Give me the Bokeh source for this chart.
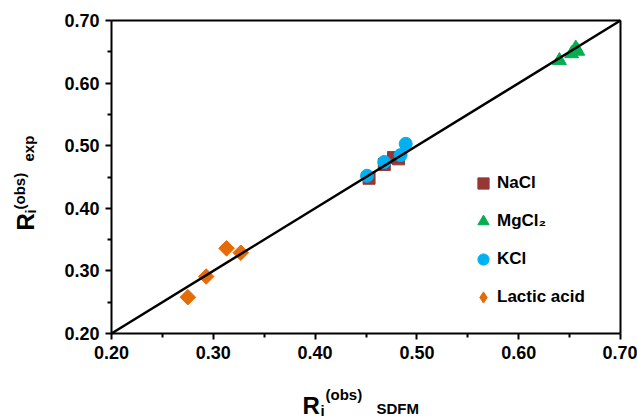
from bokeh.plotting import figure
from bokeh.models import Label, Legend, LegendItem, FixedTicker, NumeralTickFormatter, Range1d, LinearAxis
from bokeh.embed import file_html
from bokeh.resources import INLINE
import math

nacl_x = [0.453, 0.468, 0.477, 0.482]
nacl_y = [0.448, 0.470, 0.481, 0.479]
mg_x = [0.640, 0.652, 0.656, 0.658]
mg_y = [0.636, 0.647, 0.656, 0.651]
kcl_x = [0.451, 0.468, 0.484, 0.489]
kcl_y = [0.452, 0.474, 0.485, 0.503]
lac_x = [0.275, 0.293, 0.313, 0.327]
lac_y = [0.258, 0.291, 0.336, 0.329]
line_x = [0.20, 0.70]
line_y = [0.20, 0.70]
major_ticks = [0.20, 0.30, 0.40, 0.50, 0.60, 0.70]
minor_ticks = [0.25, 0.35, 0.45, 0.55, 0.65]
axis_min, axis_max = 0.20, 0.70

FONT = "Liberation Sans"
W, H = 637, 418
# frame box of the axes in canvas pixels
L, R, T, B = 111, 620, 20, 333
sx = (R - L) / (axis_max - axis_min)
sy = (B - T) / (axis_max - axis_min)
xr = Range1d(axis_min - L / sx, axis_max + (W - R) / sx)
yr = Range1d(axis_min - (H - B) / sy, axis_max + T / sy)

p = figure(width=W, height=H, output_backend="svg", toolbar_location=None,
           x_range=xr, y_range=yr, min_border=0)
p.background_fill_color = "white"
p.border_fill_color = "white"
p.grid.visible = False
p.outline_line_color = None

def style(ax):
    ax.axis_line_color = "black"
    ax.axis_line_width = 2
    ax.major_tick_line_color = "black"
    ax.major_tick_line_width = 2
    ax.minor_tick_line_color = "black"
    ax.minor_tick_line_width = 2
    ax.major_tick_out = 6
    ax.major_tick_in = 0
    ax.minor_tick_out = 4
    ax.minor_tick_in = 0
    ax.major_label_text_font = FONT
    ax.major_label_text_font_style = "bold"
    ax.major_label_text_font_size = "18px"
    ax.major_label_text_color = "black"
    ax.major_label_standoff = 6
    ax.bounds = (axis_min, axis_max)

for ax in (p.xaxis[0], p.yaxis[0]):
    ax.ticker = FixedTicker(ticks=major_ticks, minor_ticks=minor_ticks)
    ax.formatter = NumeralTickFormatter(format="0.00")
    ax.fixed_location = axis_min
    style(ax)

for place in ("above", "right"):
    ax = LinearAxis(ticker=FixedTicker(ticks=[], minor_ticks=[]), fixed_location=axis_max)
    style(ax)
    p.add_layout(ax, place)

r_na = p.scatter(nacl_x, nacl_y, marker="square", size=12, fill_color="#953735", line_color="#953735")
r_mg = p.scatter(mg_x, mg_y, marker="triangle", size=14, fill_color="#00b050", line_color="#00b050")
r_k = p.scatter(kcl_x, kcl_y, marker="circle", size=13, fill_color="#00b0f0", line_color="#00b0f0")
r_lac = p.scatter(lac_x, lac_y, marker="square", angle=math.pi / 4, size=11, fill_color="#e36c09", line_color="#e36c09")
r_lac_leg = p.scatter([float("nan")], [float("nan")], marker="diamond", size=11, fill_color="#e36c09", line_color="#e36c09")
p.line(line_x, line_y, line_color="black", line_width=2.5)

legend = Legend(items=[
    LegendItem(label="NaCl", renderers=[r_na]),
    LegendItem(label="MgCl\u2082", renderers=[r_mg]),
    LegendItem(label="KCl", renderers=[r_k]),
    LegendItem(label="Lactic acid", renderers=[r_lac_leg]),
], location=(469, 107))
legend.border_line_color = None
legend.background_fill_alpha = 0
legend.label_text_font = FONT
legend.label_text_font_style = "bold"
legend.label_text_font_size = "17px"
legend.label_text_color = "black"
legend.glyph_width = 28
legend.glyph_height = 28
legend.label_standoff = 0
legend.spacing = 10
legend.padding = 4
p.add_layout(legend, "center")

def lab(cx, cy, t, size, angle=0.0):
    # cx, cy: canvas pixels from top-left; converted to frame screen units
    p.add_layout(Label(x=cx, y=H - cy, x_units="screen", y_units="screen", text=t, angle=angle,
                       text_font=FONT, text_font_style="bold", text_font_size=size,
                       text_color="black", text_baseline="alphabetic", text_align="left"))

# x-axis title
lab(302, 405, "R", "24px")
lab(320, 410, "i", "15px")
lab(325, 394, "(obs)", "15px")
lab(376, 408, "SDFM", "15px")
# y-axis title
a = math.pi / 2
lab(25, 230, "R", "24px", a)
lab(30, 213, "i", "15px", a)
lab(19, 209, "(obs)", "15px", a)
lab(28, 161, "exp", "15px", a)

open("out.html", "w").write(file_html(p, INLINE))
